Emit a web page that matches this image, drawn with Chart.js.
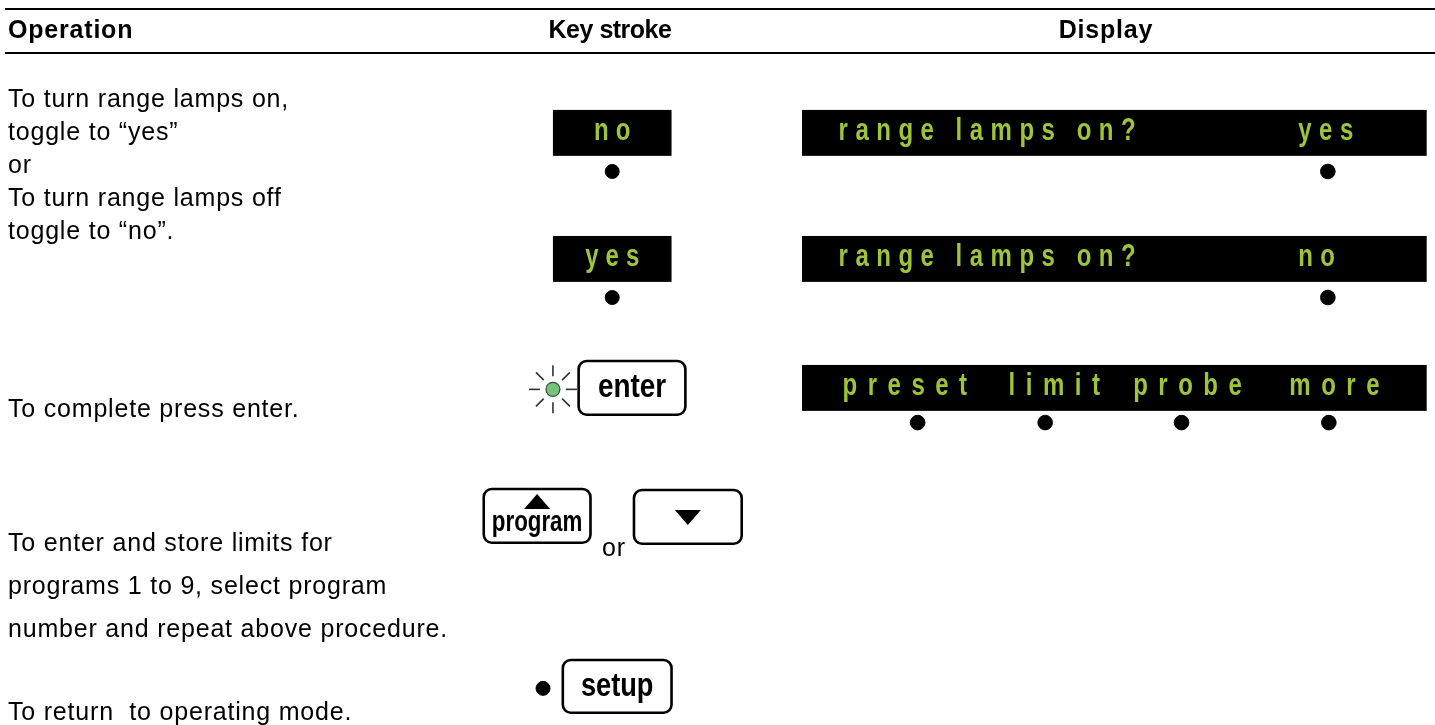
<!DOCTYPE html>
<html><head><meta charset="utf-8">
<script src="https://cdn.jsdelivr.net/npm/chart.js@4/dist/chart.umd.min.js"></script>
<style>
html,body{margin:0;padding:0;background:#fff;}
#page{position:relative;width:1435px;height:725px;overflow:hidden;font-family:"Liberation Sans",Arial,Helvetica,sans-serif;color:#000;}
#chart{position:absolute;left:0;top:0;}
.t{position:absolute;white-space:pre;font-size:25px;line-height:25px;letter-spacing:0.8px;}
.h{font-weight:bold;}
.rule{position:absolute;left:5px;right:0;height:2.5px;background:#000;}
</style></head>
<body><div id="page"><canvas id="chart" width="1435" height="725"></canvas></div>
<script>
// ---------------- DATA ----------------
const headers = ['Operation', 'Key stroke', 'Display'];
const operationLines = [
  'To turn range lamps on,', 'toggle to \u201Cyes\u201D', 'or', 'To turn range lamps off', 'toggle to \u201Cno\u201D.',
  'To complete press enter.',
  'To enter and store limits for', 'programs 1 to 9, select program', 'number and repeat above procedure.',
  'To return  to operating mode.'
];
const keyDisplayLabels = ['no', 'yes'];               // lit key-stroke display boxes
const keyLabels = ['enter', 'program', '', 'setup'];  // push keys
const keyJoiner = 'or';
const displayWords = [
  ['range lamps on?', 'yes'],
  ['range lamps on?', 'no'],
  ['preset', 'limit', 'probe', 'more']
];
const keyDotFor = ['no', 'yes', 'setup'];          // keys carrying an indicator dot
const displayDotSlots = [[1], [1], [0, 1, 2, 3]];  // soft-key slot lit under each display row

// ---------------- LAYOUT ----------------
const W = 1435, H = 725;
const L = {
  headerBaseline: 38,
  headerPos: [{x: 8, align: 'left', ls: 0.8}, {x: 610, align: 'center', ls: -0.5}, {x: 1106, align: 'center', ls: 0.8}],
  rules: [7.5, 51.5],
  opX: 8,
  opBaselines: [107, 140, 173, 206, 239, 417, 551, 594, 637, 720],
  keyDisp: [{x0: 551, x1: 671, y0: 104, y1: 151, base: 135}, {x0: 551, x1: 671, y0: 233, y1: 280, base: 264}],
  keys: [
    {x0: 577, x1: 685, y0: 361, y1: 416, base: 398, size: 34, sx: 0.82},
    {x0: 481, x1: 589, y0: 492, y1: 547, base: 535, size: 29, sx: 0.77, tri: 'up'},
    {x0: 633, x1: 742, y0: 493, y1: 548, tri: 'down'},
    {x0: 561, x1: 671, y0: 667, y1: 721, base: 704, size: 34, sx: 0.8}
  ],
  joiner: {x: 602, base: 556},
  led: {x: 551, y: 390},
  disp: [
    {x0: 803, x1: 1435, y0: 104, y1: 151, base: 135, xs: [840, 1305], sp: 7.5, dotY: 167, slots: [null, 1335]},
    {x0: 803, x1: 1435, y0: 233, y1: 280, base: 264, xs: [840, 1305], sp: 7.5, dotY: 296, slots: [null, 1335]},
    {x0: 803, x1: 1435, y0: 365, y1: 412, base: 396, xs: [844, 1012, 1138, 1296], sp: 10.5, dotY: 424, slots: [920, 1049, 1187, 1336]}
  ],
  keyDot: {no: {x: 611, y: 167}, yes: {x: 611, y: 296}, setup: {x: 541, y: 696}},
  green: '#9dc43a',
  greenSize: 32, greenScale: 0.75
};

// ---------------- HTML TEXT ----------------
const page = document.getElementById('page');
function addText(str, x, baseline, align, bold, ls) {
  const d = document.createElement('div');
  d.className = 't' + (bold ? ' h' : '');
  d.textContent = str;
  d.style.top = (baseline - 21) + 'px';
  d.style.left = x + 'px';
  if (ls !== undefined) d.style.letterSpacing = ls + 'px';
  if (align === 'center') d.style.transform = 'translateX(-50%)';
  page.appendChild(d);
}
L.rules.forEach(y => { const r = document.createElement('div'); r.className = 'rule'; r.style.top = y + 'px'; page.appendChild(r); });
headers.forEach((h, i) => addText(h, L.headerPos[i].x, L.headerBaseline, L.headerPos[i].align, true, L.headerPos[i].ls));
operationLines.forEach((s, i) => addText(s, L.opX, L.opBaselines[i], 'left', false));
addText(keyJoiner, L.joiner.x, L.joiner.base, 'left', false);

// ---------------- CHART ----------------
function spacedWidth(ctx, str, sp) {
  let w = 0; for (const ch of str) w += ctx.measureText(ch).width + sp; return w - sp;
}
function drawSpaced(ctx, str, x, y, sp, sx) {
  ctx.save(); ctx.translate(x, y); ctx.scale(sx, 1);
  let cx = 0;
  for (const ch of str) { ctx.fillText(ch, cx, 0); cx += ctx.measureText(ch).width + sp / sx; }
  ctx.restore();
}
const GREEN_FONT = 'bold ' + L.greenSize + 'px "Liberation Sans", Arial, sans-serif';
const GS = L.greenScale;
const panels = {
  id: 'panels',
  beforeDatasetsDraw(chart) {
    const ctx = chart.ctx, X = v => chart.scales.x.getPixelForValue(v), Y = v => chart.scales.y.getPixelForValue(v);
    ctx.save();
    ctx.textBaseline = 'alphabetic'; ctx.textAlign = 'left';
    keyDisplayLabels.forEach((lab, i) => {
      const b = L.keyDisp[i];
      ctx.fillStyle = '#000';
      ctx.fillRect(X(b.x0), Y(b.y0), X(b.x1) - X(b.x0), Y(b.y1) - Y(b.y0));
      ctx.font = GREEN_FONT; ctx.fillStyle = L.green;
      const w = spacedWidth(ctx, lab, 7 / GS) * GS;
      drawSpaced(ctx, lab, (X(b.x0) + X(b.x1)) / 2 - w / 2, Y(b.base), 7, GS);
    });
    displayWords.forEach((words, r) => {
      const b = L.disp[r];
      ctx.fillStyle = '#000';
      ctx.fillRect(X(b.x0), Y(b.y0), X(b.x1) - X(b.x0), Y(b.y1) - Y(b.y0));
      ctx.font = GREEN_FONT; ctx.fillStyle = L.green;
      words.forEach((wd, j) => drawSpaced(ctx, wd, X(b.xs[j]), Y(b.base), b.sp, GS));
    });
    keyLabels.forEach((lab, i) => {
      const k = L.keys[i];
      ctx.beginPath();
      ctx.roundRect(X(k.x0), Y(k.y0), X(k.x1) - X(k.x0), Y(k.y1) - Y(k.y0), 8);
      ctx.lineWidth = 2.6; ctx.strokeStyle = '#000'; ctx.stroke();
      ctx.fillStyle = '#000';
      const cx = (X(k.x0) + X(k.x1)) / 2;
      if (lab) {
        ctx.font = 'bold ' + k.size + 'px "Liberation Sans", Arial, sans-serif';
        const w = ctx.measureText(lab).width * k.sx;
        ctx.save(); ctx.translate(cx - w / 2, Y(k.base)); ctx.scale(k.sx, 1); ctx.fillText(lab, 0, 0); ctx.restore();
      }
      if (k.tri === 'up') {
        ctx.beginPath(); ctx.moveTo(cx - 13, Y(k.y0) + 20); ctx.lineTo(cx + 13, Y(k.y0) + 20); ctx.lineTo(cx, Y(k.y0) + 5); ctx.closePath(); ctx.fill();
      } else if (k.tri === 'down') {
        ctx.beginPath(); ctx.moveTo(cx - 13, Y(k.y0) + 20); ctx.lineTo(cx + 13, Y(k.y0) + 20); ctx.lineTo(cx, Y(k.y0) + 35); ctx.closePath(); ctx.fill();
      }
    });
    const lx = X(L.led.x), ly = Y(L.led.y);
    ctx.strokeStyle = '#333'; ctx.lineWidth = 1.6;
    for (let a = 0; a < 8; a++) {
      const t = a * Math.PI / 4;
      ctx.beginPath(); ctx.moveTo(lx + Math.cos(t) * 13, ly + Math.sin(t) * 13); ctx.lineTo(lx + Math.cos(t) * 24, ly + Math.sin(t) * 24); ctx.stroke();
    }
    ctx.beginPath(); ctx.arc(lx, ly, 7, 0, Math.PI * 2); ctx.fillStyle = '#74c27b'; ctx.fill();
    ctx.lineWidth = 1.2; ctx.strokeStyle = '#2f4f33'; ctx.stroke();
    ctx.restore();
  }
};

const keyDotPoints = keyDotFor.map(k => ({x: L.keyDot[k].x, y: L.keyDot[k].y}));
const displayDotPoints = [];
displayDotSlots.forEach((slots, r) => slots.forEach(s => {
  const b = L.disp[r];
  displayDotPoints.push({x: b.slots[s], y: b.dotY});
}));

new Chart(document.getElementById('chart'), {
  type: 'scatter',
  data: {
    datasets: [
      {label: 'key dots', data: keyDotPoints, pointRadius: 7, pointBorderWidth: 1, backgroundColor: '#000', borderColor: '#000'},
      {label: 'display dots', data: displayDotPoints, pointRadius: 7.3, pointBorderWidth: 1, backgroundColor: '#000', borderColor: '#000'}
    ]
  },
  options: {
    responsive: false, animation: false, events: [],
    layout: {padding: 0},
    plugins: {legend: {display: false}, tooltip: {enabled: false}},
    scales: {
      x: {type: 'linear', min: 0, max: W, display: false},
      y: {type: 'linear', min: 0, max: H, reverse: true, display: false}
    }
  },
  plugins: [panels]
});
</script>
</body></html>
